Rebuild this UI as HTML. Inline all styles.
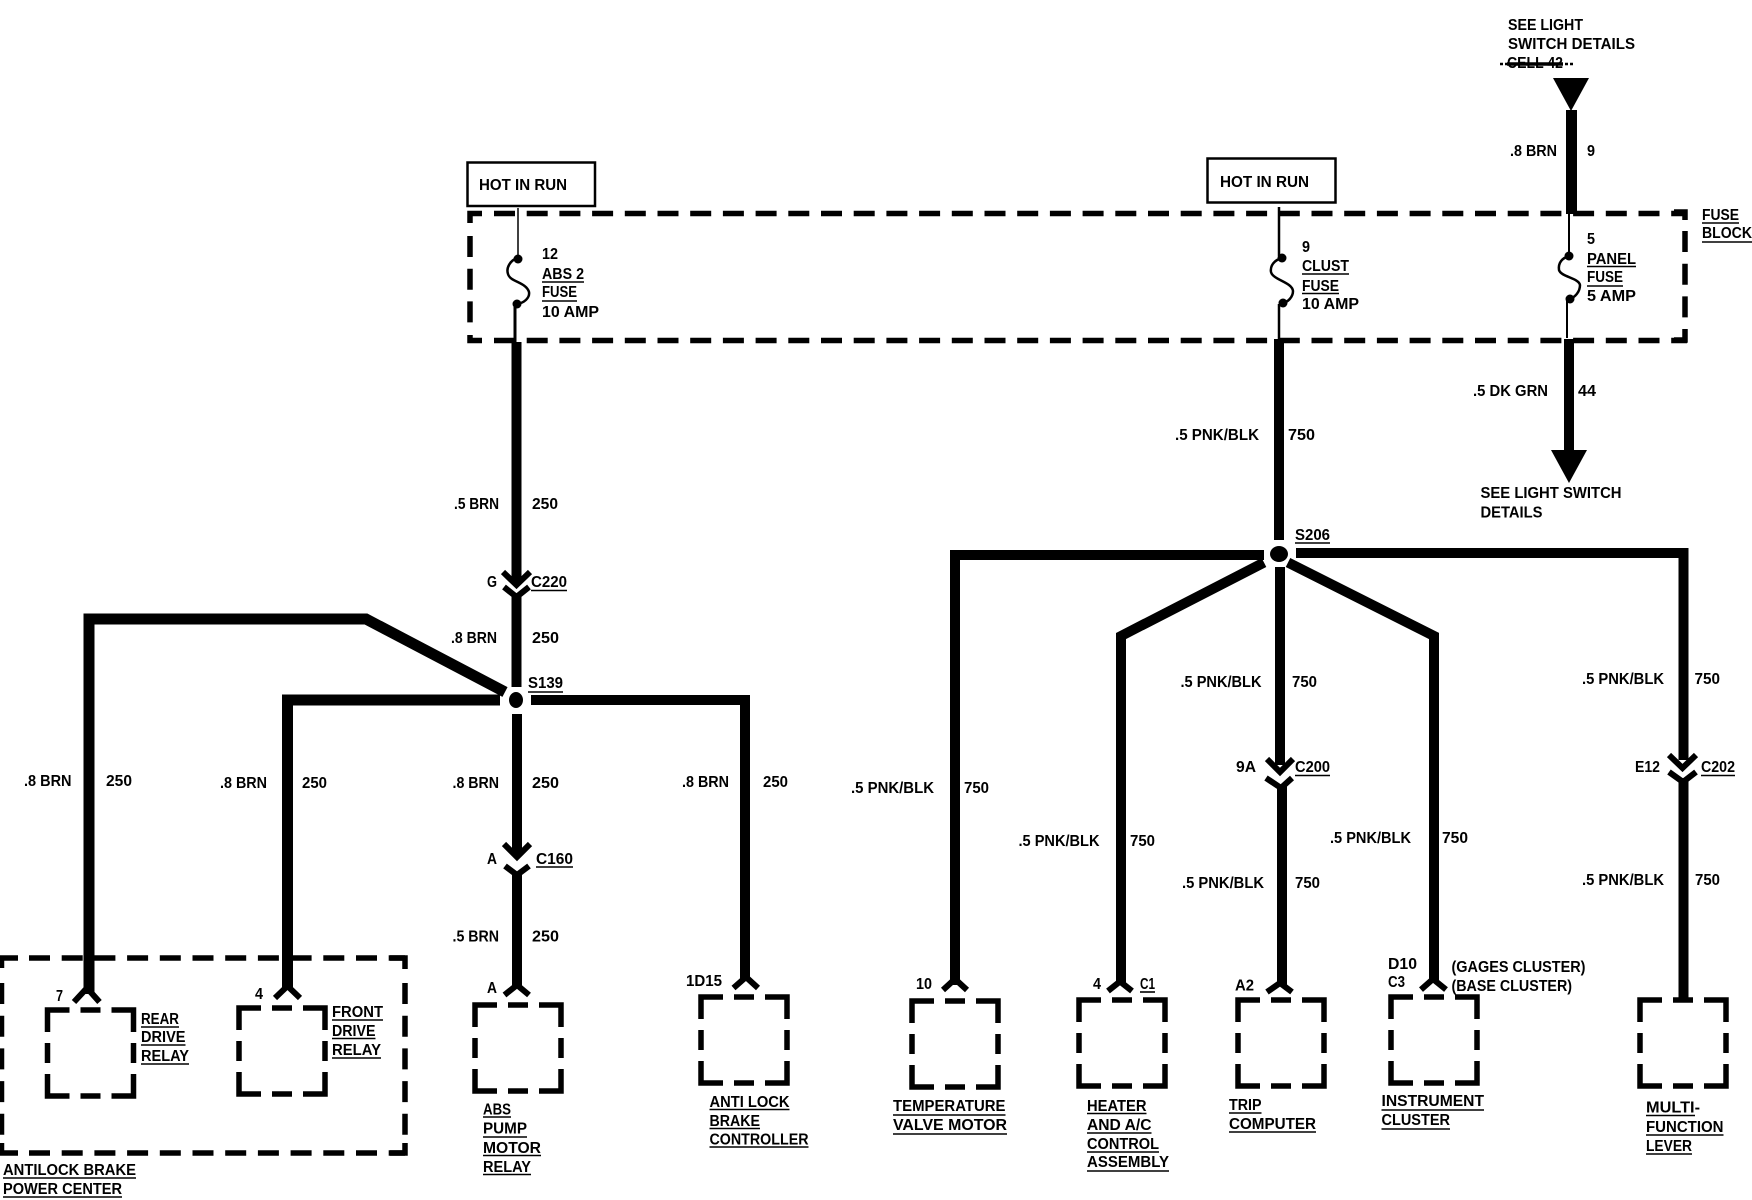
<!DOCTYPE html>
<html>
<head>
<meta charset="utf-8">
<title>Wiring diagram</title>
<style>
html,body{margin:0;padding:0;background:#fff;width:1752px;height:1200px;overflow:hidden}
svg{display:block}
text{font-family:"Liberation Sans",sans-serif;font-size:16px;font-weight:bold;fill:#000;transform:translateY(-0.8px)}
.w{fill:none;stroke:#000;stroke-width:10;stroke-linejoin:miter}
.c{fill:none;stroke:#000;stroke-width:6}
.e{fill:none;stroke:#000;stroke-width:5.5}
.d{fill:none;stroke:#000;stroke-width:5.5;stroke-dasharray:21 11.7}
.t{fill:none;stroke:#000;stroke-width:2.5}
.u{fill:none;stroke:#000;stroke-width:1.6}
.b{fill:none;stroke:#000;stroke-width:5.5;stroke-dasharray:22 11 20 11 44 11 20 11 44 11 20 11 44 11 20 11 22}
</style>
</head>
<body>
<svg width="1752" height="1200" viewBox="0 0 1752 1200" xmlns="http://www.w3.org/2000/svg">
<rect width="1752" height="1200" fill="#fff"/>

<!-- fuse block dashed -->
<path class="d" d="M494 213.5H1687"/>
<path class="d" d="M494 340.5H1687"/>
<path class="e" d="M482 213.5H470V223"/>
<path class="e" d="M482 340.5H470V335"/>
<path class="d" d="M470 236V330"/>
<path class="d" d="M1685 231V325"/>
<path class="e" d="M1674 212H1685V220"/>
<path class="e" d="M1674 340H1685V329"/>

<!-- hot in run boxes -->
<rect x="467.5" y="162.5" width="127.5" height="43.5" fill="#fff" stroke="#000" stroke-width="2.5"/>
<rect x="1207.5" y="158.5" width="128" height="44" fill="#fff" stroke="#000" stroke-width="2.5"/>

<!-- fuses -->
<path class="t" style="stroke-width:1.5" d="M518 208V258"/>
<path class="t" d="M518 258C510 260 506 268 508 274C510 282 526 282 529 292C530 298 524 303 517 304"/>
<path class="t" style="stroke-width:3" d="M515 304V342"/>
<circle cx="518" cy="259" r="4.5"/><circle cx="517" cy="304" r="4.5"/>

<path class="t" d="M1279 207V256"/>
<path class="t" d="M1282 258C1274 260 1270 266 1271 272C1273 280 1292 282 1293 291C1293 297 1288 302 1283 303"/>
<path class="t" d="M1279 304V340"/>
<circle cx="1282" cy="258" r="4.5"/><circle cx="1283" cy="303" r="4.5"/>

<path class="t" style="stroke-width:2" d="M1569 212V254"/>
<path class="t" d="M1569 256C1562 258 1558 263 1559 270C1561 277 1579 278 1580 285C1580 292 1575 297 1570 299"/>
<path class="t" style="stroke-width:2" d="M1567 300V338"/>
<circle cx="1569" cy="256" r="4.5"/><circle cx="1570" cy="299" r="4.5"/>

<!-- top right wire -->
<polygon points="1553,78 1589,78 1571,111"/>
<rect x="1566" y="110" width="11" height="104"/>
<rect x="1564" y="339" width="10" height="112"/>
<polygon points="1551,450 1587,450 1569,483"/>

<!-- left tree -->
<path class="w" d="M516.5 342V582"/>
<path class="c" d="M503 572L516.5 585L530 572"/>
<path class="c" d="M504 587L516.5 597L529 587"/>
<path class="w" d="M516.5 597V687"/>
<ellipse cx="516" cy="700" rx="7" ry="8"/>
<path class="w" style="stroke-width:11" d="M89 994V619H366L505 692"/>
<path class="w" style="stroke-width:11" d="M500 700H287.5V988"/>
<path class="w" d="M531 700H745V979"/>
<path class="w" d="M517 714V856"/>
<path class="c" d="M504 844L517 857L530 844"/>
<path class="c" d="M505 866L517 875L529 866"/>
<path class="w" d="M517 872V988"/>
<path class="c" d="M74 1002L87 988L99.5 1002"/>
<path class="c" d="M275 998L287.5 986L300 998"/>
<path class="c" d="M504.5 995L517 985L529 995"/>
<path class="c" d="M733.5 988L746 977L758 988"/>

<!-- big dashed box -->
<path class="d" d="M29 958H405"/>
<path class="d" d="M29 1153H405"/>
<path class="e" d="M0 958H18"/>
<path class="e" d="M0 1153H18"/>
<path class="e" d="M1.5 958V968"/>
<path class="e" d="M1.5 1143V1155"/>
<path class="d" d="M1.5 983V1135"/>
<path class="e" d="M390 958H405V969"/>
<path class="e" d="M390 1153H405V1143"/>
<path class="d" d="M405 983V1135"/>

<!-- right tree -->
<path class="w" d="M1279 339V540"/>
<ellipse cx="1279" cy="554" rx="9" ry="8"/>
<path class="w" d="M1264 555H955V985"/>
<path class="w" d="M1296 553H1683.5V760"/>
<path class="w" d="M1264 562.5L1121 636V985"/>
<path class="w" d="M1288 562.5L1434 636V983"/>
<path class="w" d="M1280 567V765"/>
<path class="c" d="M1267 759L1280 772L1293 759"/>
<path class="c" d="M1266 778L1281 788L1292 778"/>
<path class="w" d="M1282 785V985"/>
<path class="c" d="M1669 755L1682.5 768L1696 755"/>
<path class="c" d="M1669 772L1683 782L1696 772"/>
<path class="w" d="M1683.5 778V998"/>
<path class="c" d="M943 990L955 979L967 990"/>
<path class="c" d="M1108 991L1120 981.5L1132 991"/>
<path class="c" d="M1267 992L1280 983L1292 992"/>
<path class="c" d="M1421 989.6L1433 979L1446 989.6"/>

<!-- small dashed boxes -->
<rect class="b" x="47.5" y="1010" width="86" height="86"/>
<rect class="b" x="239" y="1008" width="86" height="86"/>
<rect class="b" x="475" y="1005" width="86" height="86"/>
<rect class="b" x="701" y="997" width="86" height="86"/>
<rect class="b" x="912" y="1001" width="86" height="86"/>
<rect class="b" x="1079" y="1000" width="86" height="86"/>
<rect class="b" x="1238" y="1000" width="86" height="86"/>
<rect class="b" x="1391" y="997" width="86" height="86"/>
<rect class="b" x="1640" y="1000" width="86" height="86"/>

<!-- labels top -->
<text x="479" y="191" textLength="88" lengthAdjust="spacingAndGlyphs">HOT IN RUN</text>
<text x="1220" y="188" textLength="89" lengthAdjust="spacingAndGlyphs">HOT IN RUN</text>
<text x="542" y="260" textLength="16" lengthAdjust="spacingAndGlyphs">12</text>
<text x="542" y="280" textLength="42" lengthAdjust="spacingAndGlyphs">ABS 2</text>
<text x="542" y="298" textLength="35" lengthAdjust="spacingAndGlyphs">FUSE</text>
<text x="542" y="318" textLength="57" lengthAdjust="spacingAndGlyphs">10 AMP</text>
<path class="u" d="M542 282H584M542 301H577"/>
<text x="1302" y="253" textLength="8" lengthAdjust="spacingAndGlyphs">9</text>
<text x="1302" y="272" textLength="47" lengthAdjust="spacingAndGlyphs">CLUST</text>
<text x="1302" y="292" textLength="37" lengthAdjust="spacingAndGlyphs">FUSE</text>
<text x="1302" y="310" textLength="57" lengthAdjust="spacingAndGlyphs">10 AMP</text>
<path class="u" d="M1302 274H1349M1302 293.5H1339"/>
<text x="1587" y="245" textLength="8" lengthAdjust="spacingAndGlyphs">5</text>
<text x="1587" y="265" textLength="49" lengthAdjust="spacingAndGlyphs">PANEL</text>
<text x="1587" y="283" textLength="36" lengthAdjust="spacingAndGlyphs">FUSE</text>
<text x="1587" y="302" textLength="49" lengthAdjust="spacingAndGlyphs">5 AMP</text>
<path class="u" d="M1587 266.5H1636M1587 286H1623"/>
<text x="1702" y="221" textLength="37" lengthAdjust="spacingAndGlyphs">FUSE</text>
<text x="1702" y="239" textLength="50" lengthAdjust="spacingAndGlyphs">BLOCK</text>
<path class="u" d="M1702 223H1739M1702 242H1752"/>

<text x="1508" y="31" textLength="75" lengthAdjust="spacingAndGlyphs">SEE LIGHT</text>
<text x="1508" y="50" textLength="127" lengthAdjust="spacingAndGlyphs">SWITCH DETAILS</text>
<text x="1507" y="69" textLength="56" lengthAdjust="spacingAndGlyphs">CELL 42</text>
<path d="M1500 64H1574" stroke="#000" stroke-width="2.5" stroke-dasharray="3 2" fill="none"/>
<path d="M1507 64H1563" stroke="#000" stroke-width="3.5" fill="none"/>
<text x="1510" y="157" textLength="47" lengthAdjust="spacingAndGlyphs">.8 BRN</text>
<text x="1587" y="157" textLength="8" lengthAdjust="spacingAndGlyphs">9</text>
<text x="1473" y="397" textLength="75" lengthAdjust="spacingAndGlyphs">.5 DK GRN</text>
<text x="1578" y="397" textLength="18" lengthAdjust="spacingAndGlyphs">44</text>
<text x="1480.5" y="499" textLength="141" lengthAdjust="spacingAndGlyphs">SEE LIGHT SWITCH</text>
<text x="1480.5" y="518.5" textLength="62" lengthAdjust="spacingAndGlyphs">DETAILS</text>

<!-- wire labels left -->
<text x="454" y="510" textLength="45" lengthAdjust="spacingAndGlyphs">.5 BRN</text>
<text x="532" y="510" textLength="26" lengthAdjust="spacingAndGlyphs">250</text>
<text x="487" y="588" textLength="10" lengthAdjust="spacingAndGlyphs">G</text>
<text x="531" y="588" textLength="36" lengthAdjust="spacingAndGlyphs">C220</text>
<path class="u" d="M531 590.5H567"/>
<text x="451" y="644" textLength="46" lengthAdjust="spacingAndGlyphs">.8 BRN</text>
<text x="532" y="644" textLength="27" lengthAdjust="spacingAndGlyphs">250</text>
<text x="528" y="689" textLength="35" lengthAdjust="spacingAndGlyphs">S139</text>
<path class="u" d="M528 692H563"/>
<text x="24" y="787" textLength="47.5" lengthAdjust="spacingAndGlyphs">.8 BRN</text>
<text x="106" y="787" textLength="26" lengthAdjust="spacingAndGlyphs">250</text>
<text x="220" y="789" textLength="47" lengthAdjust="spacingAndGlyphs">.8 BRN</text>
<text x="302" y="789" textLength="25" lengthAdjust="spacingAndGlyphs">250</text>
<text x="452.5" y="789" textLength="46.5" lengthAdjust="spacingAndGlyphs">.8 BRN</text>
<text x="532" y="789" textLength="27" lengthAdjust="spacingAndGlyphs">250</text>
<text x="682" y="788" textLength="47" lengthAdjust="spacingAndGlyphs">.8 BRN</text>
<text x="763" y="788" textLength="25" lengthAdjust="spacingAndGlyphs">250</text>
<text x="487" y="865" textLength="10" lengthAdjust="spacingAndGlyphs">A</text>
<text x="536" y="865" textLength="37" lengthAdjust="spacingAndGlyphs">C160</text>
<path class="u" d="M536 867H573"/>
<text x="452.5" y="942.5" textLength="46.5" lengthAdjust="spacingAndGlyphs">.5 BRN</text>
<text x="532" y="942.5" textLength="27" lengthAdjust="spacingAndGlyphs">250</text>
<text x="56" y="1002" textLength="7" lengthAdjust="spacingAndGlyphs">7</text>
<text x="255" y="1000" textLength="8" lengthAdjust="spacingAndGlyphs">4</text>
<text x="487" y="994" textLength="10" lengthAdjust="spacingAndGlyphs">A</text>
<text x="686" y="987" textLength="36" lengthAdjust="spacingAndGlyphs">1D15</text>

<!-- captions left -->
<text x="141" y="1025" textLength="38" lengthAdjust="spacingAndGlyphs">REAR</text>
<text x="141" y="1043" textLength="44.5" lengthAdjust="spacingAndGlyphs">DRIVE</text>
<text x="141" y="1062" textLength="48" lengthAdjust="spacingAndGlyphs">RELAY</text>
<path class="u" d="M141 1027H179M141 1045H185.5M141 1064H189"/>
<text x="332" y="1018" textLength="51" lengthAdjust="spacingAndGlyphs">FRONT</text>
<text x="332" y="1037" textLength="43.5" lengthAdjust="spacingAndGlyphs">DRIVE</text>
<text x="332" y="1056" textLength="49" lengthAdjust="spacingAndGlyphs">RELAY</text>
<path class="u" d="M332 1020H383M332 1038.5H375.5M332 1058H381"/>
<text x="483" y="1115.5" textLength="28" lengthAdjust="spacingAndGlyphs">ABS</text>
<text x="483" y="1134.5" textLength="44" lengthAdjust="spacingAndGlyphs">PUMP</text>
<text x="483" y="1154" textLength="58" lengthAdjust="spacingAndGlyphs">MOTOR</text>
<text x="483" y="1173" textLength="48" lengthAdjust="spacingAndGlyphs">RELAY</text>
<path class="u" d="M483 1117H511M483 1137H527M483 1155.5H541M483 1174.5H531"/>
<text x="709.5" y="1108" textLength="80" lengthAdjust="spacingAndGlyphs">ANTI LOCK</text>
<text x="709.5" y="1127" textLength="50.5" lengthAdjust="spacingAndGlyphs">BRAKE</text>
<text x="709.5" y="1145.5" textLength="99" lengthAdjust="spacingAndGlyphs">CONTROLLER</text>
<path class="u" d="M709.5 1109.5H789.5M709.5 1128.5H760M709.5 1147H808.5"/>
<text x="3" y="1176" textLength="133" lengthAdjust="spacingAndGlyphs">ANTILOCK BRAKE</text>
<text x="3" y="1195" textLength="119" lengthAdjust="spacingAndGlyphs">POWER CENTER</text>
<path class="u" d="M3 1178H136M3 1197H122"/>

<!-- wire labels right -->
<text x="1175" y="441" textLength="84" lengthAdjust="spacingAndGlyphs">.5 PNK/BLK</text>
<text x="1288" y="441" textLength="27" lengthAdjust="spacingAndGlyphs">750</text>
<text x="1295" y="541" textLength="35" lengthAdjust="spacingAndGlyphs">S206</text>
<path class="u" d="M1295 543H1330"/>
<text x="851" y="794" textLength="83" lengthAdjust="spacingAndGlyphs">.5 PNK/BLK</text>
<text x="964" y="794" textLength="25" lengthAdjust="spacingAndGlyphs">750</text>
<text x="1018.5" y="847" textLength="81" lengthAdjust="spacingAndGlyphs">.5 PNK/BLK</text>
<text x="1130" y="847" textLength="25" lengthAdjust="spacingAndGlyphs">750</text>
<text x="1180.5" y="688" textLength="81" lengthAdjust="spacingAndGlyphs">.5 PNK/BLK</text>
<text x="1292" y="688" textLength="25" lengthAdjust="spacingAndGlyphs">750</text>
<text x="1182" y="889" textLength="82" lengthAdjust="spacingAndGlyphs">.5 PNK/BLK</text>
<text x="1295" y="889" textLength="25" lengthAdjust="spacingAndGlyphs">750</text>
<text x="1330" y="844" textLength="81" lengthAdjust="spacingAndGlyphs">.5 PNK/BLK</text>
<text x="1442" y="844" textLength="26" lengthAdjust="spacingAndGlyphs">750</text>
<text x="1582" y="685" textLength="82" lengthAdjust="spacingAndGlyphs">.5 PNK/BLK</text>
<text x="1694.5" y="685" textLength="25.5" lengthAdjust="spacingAndGlyphs">750</text>
<text x="1582" y="886" textLength="82" lengthAdjust="spacingAndGlyphs">.5 PNK/BLK</text>
<text x="1695" y="886" textLength="25" lengthAdjust="spacingAndGlyphs">750</text>
<text x="1236" y="773" textLength="20" lengthAdjust="spacingAndGlyphs">9A</text>
<text x="1295" y="773" textLength="35" lengthAdjust="spacingAndGlyphs">C200</text>
<path class="u" d="M1295 775.5H1330"/>
<text x="1635" y="773" textLength="25" lengthAdjust="spacingAndGlyphs">E12</text>
<text x="1701" y="773" textLength="34" lengthAdjust="spacingAndGlyphs">C202</text>
<path class="u" d="M1701 775.5H1735"/>
<text x="916" y="990" textLength="16" lengthAdjust="spacingAndGlyphs">10</text>
<text x="1093" y="990" textLength="8" lengthAdjust="spacingAndGlyphs">4</text>
<text x="1140" y="990" textLength="15" lengthAdjust="spacingAndGlyphs">C1</text>
<path class="u" d="M1140 992H1155"/>
<text x="1235" y="991.5" textLength="19" lengthAdjust="spacingAndGlyphs">A2</text>
<text x="1388" y="970" textLength="29" lengthAdjust="spacingAndGlyphs">D10</text>
<text x="1388" y="988" textLength="17" lengthAdjust="spacingAndGlyphs">C3</text>
<text x="1451.5" y="973" textLength="134" lengthAdjust="spacingAndGlyphs">(GAGES CLUSTER)</text>
<text x="1451.5" y="992" textLength="120.5" lengthAdjust="spacingAndGlyphs">(BASE CLUSTER)</text>

<!-- captions right -->
<text x="893" y="1112" textLength="112.5" lengthAdjust="spacingAndGlyphs">TEMPERATURE</text>
<text x="893" y="1131" textLength="114" lengthAdjust="spacingAndGlyphs">VALVE MOTOR</text>
<path class="u" d="M893 1115H1005.5M893 1134H1007"/>
<text x="1087" y="1112" textLength="59.5" lengthAdjust="spacingAndGlyphs">HEATER</text>
<text x="1087" y="1131" textLength="64.5" lengthAdjust="spacingAndGlyphs">AND A/C</text>
<text x="1087" y="1150" textLength="72" lengthAdjust="spacingAndGlyphs">CONTROL</text>
<text x="1087" y="1168" textLength="82" lengthAdjust="spacingAndGlyphs">ASSEMBLY</text>
<path class="u" d="M1087 1113.5H1146.5M1087 1133H1151.5M1087 1152H1159M1087 1171H1169"/>
<text x="1229" y="1111" textLength="32.5" lengthAdjust="spacingAndGlyphs">TRIP</text>
<text x="1229" y="1130" textLength="87" lengthAdjust="spacingAndGlyphs">COMPUTER</text>
<path class="u" d="M1229 1113H1261.5M1229 1132H1316"/>
<text x="1381.5" y="1107" textLength="102.5" lengthAdjust="spacingAndGlyphs">INSTRUMENT</text>
<text x="1381.5" y="1126" textLength="68.5" lengthAdjust="spacingAndGlyphs">CLUSTER</text>
<path class="u" d="M1381.5 1110H1484M1381.5 1129H1450"/>
<text x="1646" y="1113.5" textLength="54" lengthAdjust="spacingAndGlyphs">MULTI-</text>
<text x="1646" y="1133" textLength="77.5" lengthAdjust="spacingAndGlyphs">FUNCTION</text>
<text x="1646" y="1152" textLength="46" lengthAdjust="spacingAndGlyphs">LEVER</text>
<path class="u" d="M1646 1115.5H1695M1646 1135H1723.5M1646 1154H1692"/>
</svg>
</body>
</html>
